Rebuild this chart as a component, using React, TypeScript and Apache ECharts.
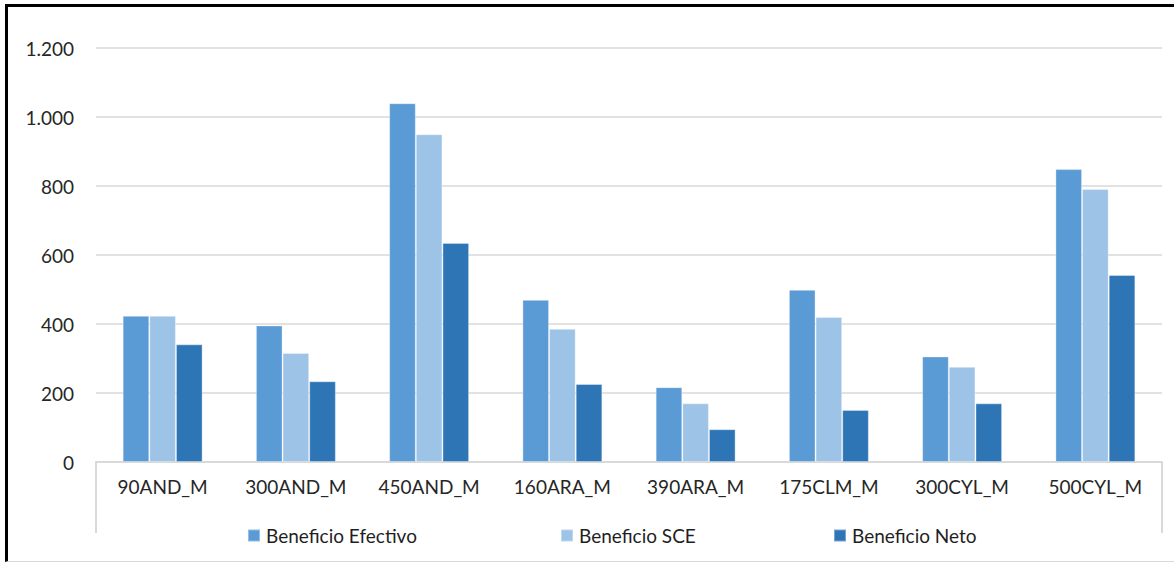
import React, { useEffect, useRef } from "react";
import * as echarts from "echarts";

const categories = ["90AND_M", "300AND_M", "450AND_M", "160ARA_M", "390ARA_M", "175CLM_M", "300CYL_M", "500CYL_M"];
const efectivo = [424, 396, 1040, 470, 217, 499, 306, 849];
const sce = [424, 316, 950, 386, 170, 420, 276, 791];
const neto = [341, 234, 635, 226, 95, 151, 170, 542];
const seriesNames = ["Beneficio Efectivo", "Beneficio SCE", "Beneficio Neto"];
const colors = ["#5B9BD5", "#9DC3E6", "#2E75B6"];
const legendLefts = [247, 560, 833];

const FONT = "Lato, 'Open Sans', sans-serif";

export default function App() {
  const ref = useRef<HTMLDivElement>(null);
  useEffect(() => {
    document.body.style.margin = "0";
    const chart = echarts.init(ref.current!, null, { renderer: "svg" });
    const W = 1174;
    const gridLeft = 96;
    const gridRight = 12;
    const gridTop = 48;
    const gridBottom = 100;
    const axisY = 562 - gridBottom;
    const fmt = (v: number) => {
      const s = String(Math.round(v));
      return s.replace(/\B(?=(\d{3})+(?!\d))/g, ".");
    };
    const dataSets = [efectivo, sce, neto];
    chart.setOption({
      animation: false,
      backgroundColor: "transparent",
      textStyle: { fontFamily: FONT },
      grid: { left: gridLeft, right: gridRight, top: gridTop, bottom: gridBottom },
      legend: seriesNames.map((n, i) => ({
        data: [n],
        left: legendLefts[i],
        top: 526,
        itemWidth: 12,
        itemHeight: 12,
        icon: "rect",
        textStyle: { fontSize: 19, color: "#1f1f1f", fontFamily: FONT, padding: [0, 0, 0, 1] },
        padding: 0,
        selectedMode: false,
      })),
      xAxis: {
        type: "category",
        data: categories,
        axisLine: { show: true, lineStyle: { color: "#d9d9d9", width: 2 } },
        axisTick: { show: false },
        axisLabel: { fontSize: 19, color: "#262626", margin: 15, fontFamily: FONT },
        splitLine: { show: false },
      },
      yAxis: {
        type: "value",
        min: 0,
        max: 1200,
        interval: 200,
        axisLine: { show: false },
        axisTick: { show: false },
        axisLabel: { fontSize: 19, color: "#262626", margin: 22, fontFamily: FONT, formatter: fmt },
        splitLine: { lineStyle: { color: "#d9d9d9", width: 1.5 } },
      },
      series: seriesNames.map((n, i) => ({
        name: n,
        type: "bar",
        data: dataSets[i],
        barGap: "0%",
        barCategoryGap: "40%",
        itemStyle: { color: colors[i], borderColor: "rgba(255,255,255,0.35)", borderWidth: 1 },
      })),
      graphic: [
        { type: "line", shape: { x1: gridLeft, y1: axisY, x2: gridLeft, y2: 533 }, style: { stroke: "#d9d9d9", lineWidth: 2 } },
        { type: "line", shape: { x1: W - gridRight, y1: axisY, x2: W - gridRight, y2: 533 }, style: { stroke: "#d9d9d9", lineWidth: 2 } },
      ],
    });
    return () => chart.dispose();
  }, []);
  return (
    <div style={{ position: "absolute", left: 0, top: 0, width: 1174, height: 562, background: "#fff" }}>
      <div
        style={{
          position: "absolute",
          left: 5,
          top: 4,
          width: 1174 - 8,
          height: 562 - 4 - 4,
          borderLeft: "3px solid #000",
          borderTop: "3px solid #000",
          borderBottom: "1px solid #d9d9d9",
        }}
      />
      <div ref={ref} style={{ position: "absolute", left: 0, top: 0, width: 1174, height: 562 }} />
    </div>
  );
}
